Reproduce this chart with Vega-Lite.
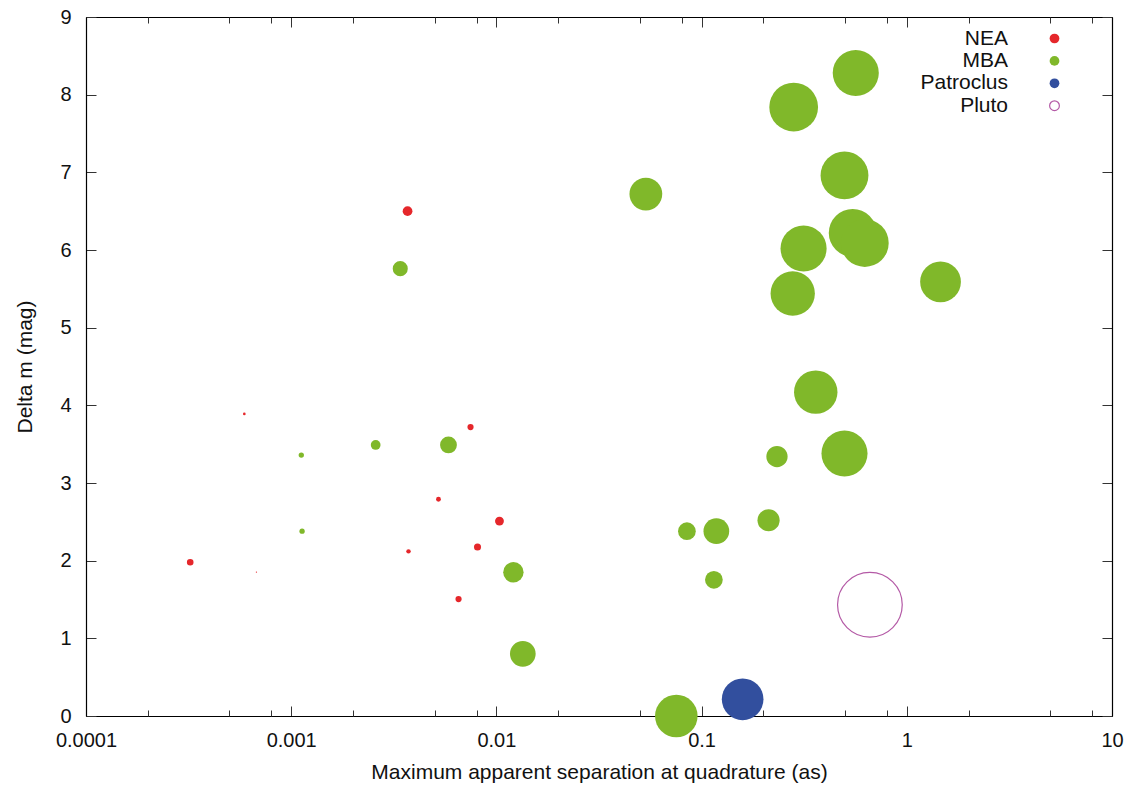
{
  "$schema": "https://vega.github.io/schema/vega-lite/v6.json",
  "width": 1026,
  "height": 699,
  "autosize": "none",
  "padding": {"left": 86, "top": 17, "right": 21, "bottom": 69},
  "background": "white",
  "config": {
    "font": "Liberation Sans",
    "view": {"stroke": null},
    "axis": {
      "grid": false,
      "domainColor": "#000",
      "domainWidth": 1.2,
      "tickColor": "#333",
      "tickWidth": 1,
      "labelFont": "Liberation Sans",
      "labelFontSize": 20,
      "labelColor": "#111",
      "titleFont": "Liberation Sans",
      "titleFontSize": 21,
      "titleFontWeight": "normal",
      "titleColor": "#111",
      "zindex": 1
    },
    "legend": {"labelFont": "Liberation Sans"}
  },
  "data": {
    "values": [
      {"type": "NEA", "sep": 0.00369, "dm": 6.50, "d": 11},
      {"type": "NEA", "sep": 0.000591, "dm": 3.89, "d": 3},
      {"type": "NEA", "sep": 0.00748, "dm": 3.72, "d": 7},
      {"type": "NEA", "sep": 0.00522, "dm": 2.79, "d": 5.5},
      {"type": "NEA", "sep": 0.01035, "dm": 2.51, "d": 10},
      {"type": "NEA", "sep": 0.00373, "dm": 2.12, "d": 5},
      {"type": "NEA", "sep": 0.00809, "dm": 2.175, "d": 8},
      {"type": "NEA", "sep": 0.000322, "dm": 1.98, "d": 7.5},
      {"type": "NEA", "sep": 0.00654, "dm": 1.506, "d": 7},
      {"type": "NEA", "sep": 0.000677, "dm": 1.853, "d": 1.5},
      {"type": "MBA", "sep": 0.564, "dm": 8.28, "d": 52},
      {"type": "MBA", "sep": 0.281, "dm": 7.84, "d": 55},
      {"type": "MBA", "sep": 0.497, "dm": 6.96, "d": 54},
      {"type": "MBA", "sep": 0.545, "dm": 6.22, "d": 54},
      {"type": "MBA", "sep": 0.624, "dm": 6.09, "d": 54},
      {"type": "MBA", "sep": 0.314, "dm": 6.02, "d": 52},
      {"type": "MBA", "sep": 0.278, "dm": 5.44, "d": 50},
      {"type": "MBA", "sep": 1.46, "dm": 5.59, "d": 46},
      {"type": "MBA", "sep": 0.36, "dm": 4.17, "d": 49},
      {"type": "MBA", "sep": 0.497, "dm": 3.38, "d": 52},
      {"type": "MBA", "sep": 0.233, "dm": 3.34, "d": 24},
      {"type": "MBA", "sep": 0.212, "dm": 2.52, "d": 25},
      {"type": "MBA", "sep": 0.118, "dm": 2.38, "d": 29},
      {"type": "MBA", "sep": 0.0848, "dm": 2.38, "d": 20},
      {"type": "MBA", "sep": 0.1148, "dm": 1.754, "d": 20},
      {"type": "MBA", "sep": 0.0753, "dm": 0.0, "d": 48},
      {"type": "MBA", "sep": 0.01345, "dm": 0.80, "d": 29},
      {"type": "MBA", "sep": 0.0121, "dm": 1.85, "d": 23},
      {"type": "MBA", "sep": 0.0535, "dm": 6.72, "d": 37},
      {"type": "MBA", "sep": 0.00584, "dm": 3.49, "d": 19},
      {"type": "MBA", "sep": 0.0034, "dm": 5.76, "d": 17},
      {"type": "MBA", "sep": 0.00258, "dm": 3.49, "d": 11},
      {"type": "MBA", "sep": 0.00112, "dm": 3.36, "d": 6},
      {"type": "MBA", "sep": 0.00113, "dm": 2.38, "d": 6},
      {"type": "Patroclus", "sep": 0.1585, "dm": 0.215, "d": 47},
      {"type": "Pluto", "sep": 0.661, "dm": 1.432, "d": 73}
    ]
  },
  "layer": [
    {
      "mark": {"type": "point", "filled": true, "opacity": 1, "strokeWidth": 1.2, "clip": false},
      "encoding": {
        "x": {
          "field": "sep", "type": "quantitative",
          "scale": {"type": "log", "domain": [0.0001, 10], "nice": false},
          "axis": {
            "orient": "bottom",
            "values": [0.0001, 0.001, 0.01, 0.1, 1, 10],
            "labelExpr": "'' + datum.value",
            "tickSize": -10,
            "labelPadding": 24,
            "labelFlush": false,
            "labelOverlap": false,
            "title": "Maximum apparent separation at quadrature (as)",
            "titlePadding": 11
          }
        },
        "y": {
          "field": "dm", "type": "quantitative",
          "scale": {"domain": [0, 9], "nice": false, "zero": false},
          "axis": {
            "orient": "left",
            "values": [0, 1, 2, 3, 4, 5, 6, 7, 8, 9],
            "tickSize": -10,
            "labelPadding": 25,
            "labelFlush": false,
            "labelOverlap": false,
            "title": "Delta m (mag)",
            "titlePadding": 24
          }
        },
        "fill": {
          "field": "type", "type": "nominal",
          "scale": {"domain": ["NEA", "MBA", "Patroclus", "Pluto"], "range": ["#e5272b", "#80b82a", "#324f9e", "transparent"]},
          "legend": {
            "title": null,
            "orient": "none",
            "legendX": 958,
            "legendY": 11,
            "padding": 0,
            "labelAlign": "right",
            "labelOffset": -57,
            "labelFontSize": 21,
            "labelColor": "#111",
            "symbolSize": 95,
            "symbolStrokeWidth": 1.2,
            "symbolType": "circle",
            "rowPadding": 0.4
          }
        },
        "stroke": {
          "field": "type", "type": "nominal",
          "scale": {"domain": ["NEA", "MBA", "Patroclus", "Pluto"], "range": ["transparent", "transparent", "transparent", "#b45aa6"]},
          "legend": {
            "title": null,
            "orient": "none",
            "legendX": 958,
            "legendY": 11,
            "padding": 0,
            "labelAlign": "right",
            "labelOffset": -57,
            "labelFontSize": 21,
            "labelColor": "#111",
            "symbolSize": 95,
            "symbolStrokeWidth": 1.2,
            "symbolType": "circle",
            "rowPadding": 0.4
          }
        },
        "size": {
          "field": "d", "type": "quantitative",
          "scale": {"type": "pow", "exponent": 2, "domain": [0, 80], "range": [0, 5026.5]},
          "legend": null
        }
      }
    },
    {
      "mark": {"type": "point", "opacity": 0},
      "encoding": {
        "x": {
          "field": "sep", "type": "quantitative",
          "axis": {
            "orient": "bottom",
            "values": [0.0002, 0.0005, 0.0008, 0.002, 0.005, 0.008, 0.02, 0.05, 0.08, 0.2, 0.5, 0.8, 2, 5, 8],
            "tickSize": -6, "labels": false, "domain": false, "title": null
          }
        },
        "y": {
          "field": "dm", "type": "quantitative",
          "axis": {
            "orient": "right",
            "values": [0, 1, 2, 3, 4, 5, 6, 7, 8, 9],
            "tickSize": -10, "labels": false, "title": null
          }
        }
      }
    },
    {
      "mark": {"type": "point", "opacity": 0},
      "encoding": {
        "x": {
          "field": "sep", "type": "quantitative",
          "axis": {
            "orient": "top",
            "values": [0.0001, 0.001, 0.01, 0.1, 1, 10],
            "tickSize": -10, "labels": false, "title": null
          }
        },
        "y": {"field": "dm", "type": "quantitative", "axis": null}
      }
    },
    {
      "mark": {"type": "point", "opacity": 0},
      "encoding": {
        "x": {
          "field": "sep", "type": "quantitative",
          "axis": {
            "orient": "top",
            "values": [0.0002, 0.0005, 0.0008, 0.002, 0.005, 0.008, 0.02, 0.05, 0.08, 0.2, 0.5, 0.8, 2, 5, 8],
            "tickSize": -6, "labels": false, "domain": false, "title": null
          }
        },
        "y": {"field": "dm", "type": "quantitative", "axis": null}
      }
    }
  ],
  "resolve": {"axis": {"x": "independent", "y": "independent"}}
}
